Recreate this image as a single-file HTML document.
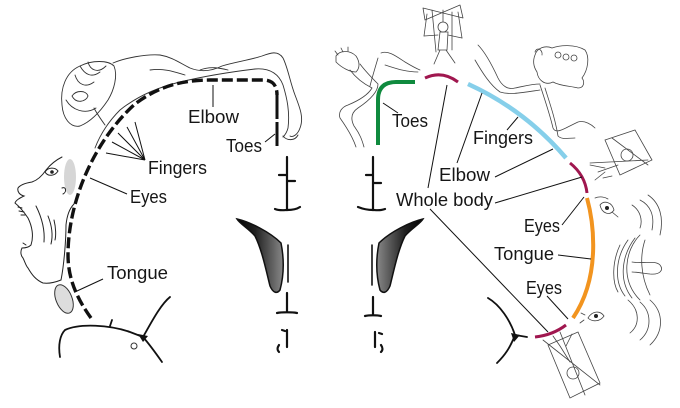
<!DOCTYPE html>
<html><head><meta charset="utf-8">
<style>
html,body{margin:0;padding:0;background:#fff;}
svg{display:block;}
text{font-family:"Liberation Sans",sans-serif;font-size:18px;fill:#161616;}
</style></head><body>
<svg width="680" height="408" viewBox="0 0 680 408" xmlns="http://www.w3.org/2000/svg">
<defs>
<linearGradient id="wg" x1="0" y1="0" x2="1" y2="0">
<stop offset="0" stop-color="#000"/><stop offset="0.4" stop-color="#222"/><stop offset="1" stop-color="#888"/>
</linearGradient>
</defs>
<rect width="680" height="408" fill="#fff"/>

<!-- ===== LEFT SKETCHES ===== -->
<g fill="none" stroke="#333" stroke-width="0.9" stroke-linecap="round">
<!-- hand -->
<path d="M62,105 C60,88 66,72 80,66 C92,60 108,60 114,66 C118,76 114,90 108,100 C100,112 90,122 80,126 C70,128 63,118 62,105 Z"/>
<path d="M80,66 C85,75 92,78 100,72 M88,62 C90,70 98,74 106,66 M75,75 C78,85 86,88 94,82 M72,96 C76,90 86,90 88,96 C86,102 76,104 72,96 M66,100 C72,110 85,115 96,108"/>
<!-- body -->
<path d="M113,63 C125,58 145,54 160,55 C172,57 180,63 190,68 C200,72 210,72 222,66 C235,62 250,60 262,56 C270,53 278,50 283,58 C288,68 290,82 295,95 C300,108 304,118 300,128 C298,134 293,138 290,136"/>
<path d="M95,148 C100,135 108,122 120,110 C135,98 155,88 180,82 C205,76 230,72 255,69 C268,68 278,72 283,85 C287,98 290,112 288,128 C287,132 285,135 283,137"/>
<path d="M283,136 C287,141 295,141 298,135 M150,70 C165,68 175,72 185,75 M200,70 C210,66 220,68 228,70 M105,125 C100,118 96,112 94,108"/>
</g>
<!-- face -->
<ellipse cx="70" cy="177" rx="6" ry="18" fill="#bbb" opacity="0.6"/>
<g fill="none" stroke="#222" stroke-width="1" stroke-linecap="round">
<path d="M62,157 C56,160 50,165 46,170 C42,176 38,180 32,182 C26,183 20,185 18,188 C17,192 20,195 24,196 C20,198 16,200 15,203 C20,207 24,212 28,218 C32,226 34,236 31,245 C28,248 24,248 22,248 C20,252 21,256 23,258 C25,262 26,266 28,268 C32,275 36,280 43,283 C50,284 56,282 61,280"/>
<path d="M61,280 C64,265 66,240 66,225 C67,215 70,208 74,204"/>
<path d="M36,206 C42,218 45,230 44,242 M48,216 C52,226 53,236 51,244 M54,220 C56,228 56,236 55,240"/>
<path d="M18,207 l4,1 M19,211 l5,1 M21,215 l4,0 M23,243 l3,2"/>
<path d="M45,172 C48,167 55,167 58,171 C55,176 48,177 45,172 Z"/>
<path d="M62,188 C66,186 67,192 63,194"/>
</g>
<circle cx="52" cy="172" r="1.8" fill="#222"/>
<!-- tongue oval -->
<ellipse cx="64" cy="299" rx="8" ry="15" transform="rotate(-22 64 299)" fill="#ddd" stroke="#333" stroke-width="1"/>
<!-- bottom branch left -->
<g fill="none" stroke="#111" stroke-width="1.8" stroke-linecap="round">
<path d="M60,357 C58,345 60,335 65,330 C80,323 110,325 130,332 L143,337 C150,325 160,305 170,297"/>
<path d="M143,337 C150,345 155,352 162,362"/>
<path d="M110,326 L112,320"/>
</g>
<path d="M138,334 L148,336 L143,342 Z" fill="#111"/>
<circle cx="134" cy="346" r="3" fill="none" stroke="#333" stroke-width="1"/>

<!-- left dashed arc -->
<path d="M91,318 C78,300 68,280 68,255 C68,200 95,140 135,104 C160,85 185,80 210,80 L263,80 Q277,80 277,95" fill="none" stroke="#111" stroke-width="3.4" stroke-dasharray="11 4"/>
<path d="M277,95 L277,147" fill="none" stroke="#111" stroke-width="3" stroke-dasharray="24 3"/>

<!-- ===== CENTER STRUCTURES ===== -->
<g>
<g fill="none" stroke="#111" stroke-width="2.2" stroke-linecap="round">
<path d="M287,157 L287,210 M279,175 L287,175 M287,181 L295,181"/>
<path d="M275,209 C280,211 285,210 287,210 C292,210 297,209 300,207"/>
<path d="M288,245 L288,282" stroke-width="1.6"/>
<path d="M287,293 L287,312 M277,313 C282,312 292,312 297,313"/>
<path d="M282,330 L285,331 M287,330 L287,347 M279,345 C277,348 277,350 279,352"/>
</g>
<path d="M237,219 C250,222 270,232 281,243 C284,258 284,275 280,290 C277,294 273,293 270,286 C266,270 262,250 255,236 C248,228 240,224 237,219 Z" fill="url(#wg)" stroke="#111" stroke-width="1.5"/>
</g>
<g transform="matrix(-1,0,0,1,660,0)">
<g fill="none" stroke="#111" stroke-width="2.2" stroke-linecap="round">
<path d="M287,157 L287,210 M279,183 L287,183 M287,175 L294,175"/>
<path d="M275,209 C280,211 285,210 287,210 C292,210 297,209 302,207"/>
<path d="M288,245 L288,285" stroke-width="1.6"/>
<path d="M287,297 L287,315 M279,316 C283,315 291,315 295,316"/>
<path d="M285,332 L285,347 M281,333 L278,334 M279,345 C277,348 277,350 279,352"/>
</g>
<path d="M237,219 C250,222 270,232 281,243 C284,258 284,275 280,290 C277,294 273,293 270,286 C266,270 262,250 255,236 C248,228 240,224 237,219 Z" fill="url(#wg)" stroke="#111" stroke-width="1.5"/>
</g>

<!-- ===== RIGHT SKETCHES ===== -->
<g fill="none" stroke="#444" stroke-width="0.8" stroke-linecap="round">
<!-- legs -->
<path d="M336,56 C340,50 350,50 356,56 C360,62 360,68 356,72 C350,72 342,68 336,62 Z"/>
<path d="M338,55 l-3,-4 M343,52 l-2,-4 M348,51 l0,-4"/>
<path d="M350,70 C356,78 364,84 372,88 C368,95 360,100 348,105 C342,107 338,112 340,118 C345,125 352,135 356,147"/>
<path d="M360,64 C366,72 372,78 378,84 C378,92 370,100 358,108 C352,112 350,118 354,126 C360,134 362,140 364,147"/>
<path d="M381,53 C388,50 396,56 405,62 C410,65 415,68 420,70 M378,58 C375,68 372,78 370,86 M385,65 C395,68 405,72 418,72"/>
<!-- top marionette -->
<path d="M423,8 L463,18 M425,20 L460,5 M423,8 L425,20 M460,5 L463,18"/>
<path d="M427,14 L424,36 M443,10 L443,22 M458,12 L462,38 M432,10 L436,52 M452,12 L452,50"/>
<circle cx="443" cy="27" r="5"/>
<path d="M440,32 L438,50 L447,50 L448,32 Z M438,35 L424,36 M448,35 L462,38 M440,50 L434,64 M446,50 L455,63"/>
<!-- arm & hand -->
<path d="M478,45 C485,52 492,65 498,78 C502,86 508,90 515,88 C525,86 532,84 540,84"/>
<path d="M475,60 C482,72 490,85 500,92 C510,95 520,93 540,90"/>
<path d="M535,55 C537,48 545,45 552,48 C560,45 575,44 585,50 C590,57 588,70 582,78 C585,82 584,88 578,88 C570,86 560,86 553,82 C545,86 538,80 537,72 C533,66 533,60 535,55 Z"/>
<path d="M535,52 C537,46 543,50 542,55"/>
<circle cx="558" cy="55" r="3"/><circle cx="566" cy="57" r="3"/><circle cx="574" cy="58" r="3"/>
<path d="M540,85 C545,100 550,115 553,128 C556,135 565,128 578,122 C585,120 592,125 595,128"/>
<path d="M545,88 C550,104 555,118 558,136 C562,140 568,138 575,138"/>
<!-- mid-right marionette -->
<path d="M605,140 L635,130 L652,160 L620,175 Z M590,163 L648,160 M612,138 L648,165"/>
<circle cx="627" cy="155" r="6"/>
<path d="M618,165 L598,172 M590,165 L605,168 M595,180 L605,172 M603,178 L612,176"/>
<!-- face -->
<path d="M600,205 C604,200 612,202 614,210 C610,216 602,214 600,205 Z M595,198 C600,196 605,197 608,199 M612,212 l6,5"/>
<path d="M640,200 C650,205 655,215 652,230 M648,195 C660,203 664,218 660,235 M632,205 C640,210 643,220 640,228"/>
<path d="M640,235 C625,250 620,280 640,300 M635,238 C622,255 618,280 632,298 M628,240 C615,258 614,282 625,296 M620,245 C612,262 612,282 618,292"/>
<path d="M645,240 C640,255 640,275 650,295"/>
<path d="M632,262 C645,264 655,260 660,265 C664,270 660,275 650,274 C642,273 636,272 632,272"/>
<path d="M588,318 C592,311 600,310 604,316 C600,322 592,322 588,318 Z M584,320 l-4,3 M585,315 l-4,-2"/>
<path d="M628,300 C640,310 640,325 630,333 M640,302 C652,312 652,330 640,340 M650,300 C664,312 664,332 650,345"/>
<!-- bottom marionette -->
<path d="M548,345 L578,332 L600,383 L570,398 Z M543,340 L600,385 M560,332 L585,395"/>
<circle cx="573" cy="373" r="6"/>
<path d="M570,362 L560,346 M560,346 L553,336 M566,346 L572,334"/>
</g>
<circle cx="596" cy="316" r="2" fill="#222"/>
<circle cx="607" cy="208" r="2" fill="#222"/>
<!-- right bottom branch -->
<g fill="none" stroke="#111" stroke-width="1.8" stroke-linecap="round">
<path d="M488,298 C500,305 510,320 515,335 L527,337 M515,335 C510,348 505,355 497,363"/>
</g>
<path d="M511,333 L520,335 L514,342 Z" fill="#111"/>

<!-- coloured arcs -->
<g fill="none" stroke-linecap="butt">
<path d="M378,145 L378,100 Q378,82 396,82 L415,82" stroke="#0f8a3e" stroke-width="4"/>
<path d="M425,78 Q442,70 458,82" stroke="#a0174f" stroke-width="3"/>
<path d="M468,84 Q525,110 566,158" stroke="#86cfea" stroke-width="4.5"/>
<path d="M570,163 Q585,175 587,193" stroke="#a0174f" stroke-width="3"/>
<path d="M587,198 C593,220 602,275 573,318" stroke="#f2941f" stroke-width="4"/>
<path d="M535,337 Q553,335 566,325" stroke="#a0174f" stroke-width="3"/>
</g>

<!-- leader lines -->
<g stroke="#111" stroke-width="1" fill="none">
<path d="M213,85 L213,107"/>
<path d="M265,142 L275,134"/>
<path d="M145,160 L106,153 M145,160 L112,142 M145,160 L118,133 M145,160 L127,127 M145,160 L135,122"/>
<path d="M127,194 L90,178"/>
<path d="M103,279 L77,291"/>
<path d="M383,103 L398,113"/>
<path d="M518,117 L507,130"/>
<path d="M495,177 L553,149 M457,163 L482,93"/>
<path d="M428,188 L447,85 M495,203 L582,177 M430,209 L548,332"/>
<path d="M562,225 L584,197"/>
<path d="M558,255 L591,259"/>
<path d="M547,296 L568,319"/>
</g>

<!-- labels -->
<text x="188" y="123" textLength="51" lengthAdjust="spacingAndGlyphs">Elbow</text>
<text x="226" y="152" textLength="36" lengthAdjust="spacingAndGlyphs">Toes</text>
<text x="148" y="174" textLength="59" lengthAdjust="spacingAndGlyphs">Fingers</text>
<text x="130" y="203" textLength="37" lengthAdjust="spacingAndGlyphs">Eyes</text>
<text x="107" y="279" textLength="61" lengthAdjust="spacingAndGlyphs">Tongue</text>

<text x="392" y="127" textLength="36" lengthAdjust="spacingAndGlyphs">Toes</text>
<text x="473" y="144" textLength="60" lengthAdjust="spacingAndGlyphs">Fingers</text>
<text x="439" y="181" textLength="51" lengthAdjust="spacingAndGlyphs">Elbow</text>
<text x="396" y="206" textLength="97" lengthAdjust="spacingAndGlyphs">Whole body</text>
<text x="524" y="232" textLength="36" lengthAdjust="spacingAndGlyphs">Eyes</text>
<text x="494" y="260" textLength="60" lengthAdjust="spacingAndGlyphs">Tongue</text>
<text x="526" y="294" textLength="36" lengthAdjust="spacingAndGlyphs">Eyes</text>
</svg>
</body></html>
